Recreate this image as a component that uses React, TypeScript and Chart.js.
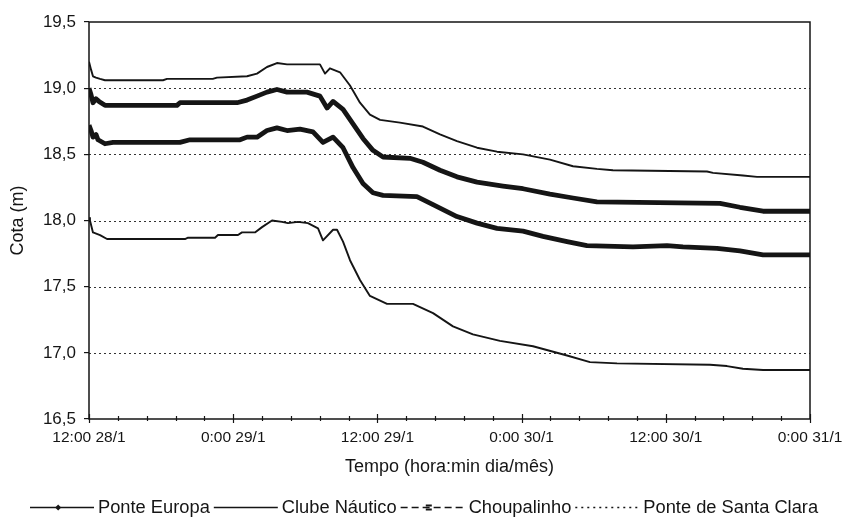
import React, { useEffect, useRef } from "react";
import { Chart, registerables } from "chart.js";

Chart.register(...registerables);

// ---- axis definitions ----
const timeTickHours = [0, 12, 24, 36, 48, 60];
const timeTickLabels = ["12:00 28/1", "0:00 29/1", "12:00 29/1", "0:00 30/1", "12:00 30/1", "0:00 31/1"];
const levelTicks = [16.5, 17.0, 17.5, 18.0, 18.5, 19.0, 19.5];
const seriesNames = ["Ponte Europa", "Clube Náutico", "Choupalinho", "Ponte de Santa Clara"];

// ---- series (hours after 12:00 28/1, level in m) ----
const clubeNauticoHours = [0, 0.17, 0.33, 0.58, 0.92, 1.33, 2.0, 6.16, 6.49, 10.3, 10.65, 13.15, 13.98, 14.81, 15.64, 16.48, 19.22, 19.64, 20.05, 20.89, 21.72, 22.55, 23.38, 24.22, 25.88, 27.79, 29.21, 30.62, 32.29, 33.95, 36.12, 38.36, 40.28, 42.27, 43.6, 51.43, 51.93, 54.42, 55.59, 60];
const clubeNauticoLevel = [19.2, 19.14, 19.09, 19.08, 19.07, 19.06, 19.06, 19.06, 19.07, 19.07, 19.08, 19.09, 19.11, 19.16, 19.19, 19.18, 19.18, 19.11, 19.15, 19.12, 19.02, 18.89, 18.8, 18.76, 18.74, 18.71, 18.65, 18.6, 18.55, 18.52, 18.5, 18.46, 18.41, 18.39, 18.38, 18.37, 18.36, 18.34, 18.33, 18.33];

const ponteEuropaHours = [0, 0.17, 0.33, 0.58, 0.83, 1.33, 2.0, 7.32, 7.57, 12.32, 13.15, 13.98, 14.81, 15.64, 16.48, 18.14, 19.22, 19.81, 20.31, 21.14, 21.97, 22.8, 23.63, 24.47, 26.71, 27.79, 29.21, 30.62, 32.29, 34.45, 36.12, 38.36, 40.28, 42.27, 52.51, 54.17, 56.09, 60];
const ponteEuropaLevel = [19.0, 18.95, 18.89, 18.92, 18.9, 18.87, 18.87, 18.87, 18.89, 18.89, 18.91, 18.94, 18.97, 18.99, 18.97, 18.97, 18.94, 18.85, 18.9, 18.84, 18.73, 18.62, 18.53, 18.48, 18.47, 18.44, 18.38, 18.33, 18.29, 18.26, 18.24, 18.2, 18.17, 18.14, 18.13, 18.1, 18.07, 18.07];

const choupalinhoHours = [0, 0.17, 0.33, 0.58, 0.75, 1.33, 2.0, 7.57, 8.4, 12.57, 13.15, 13.98, 14.81, 15.64, 16.48, 17.56, 18.64, 19.47, 20.31, 21.14, 21.97, 22.8, 23.63, 24.47, 27.29, 28.63, 30.62, 32.29, 33.95, 36.12, 37.78, 39.78, 41.44, 45.27, 48.1, 49.43, 52.26, 54.17, 56.09, 60];
const choupalinhoLevel = [18.72, 18.68, 18.63, 18.65, 18.61, 18.58, 18.59, 18.59, 18.61, 18.61, 18.63, 18.63, 18.68, 18.7, 18.68, 18.69, 18.67, 18.59, 18.63, 18.55, 18.4, 18.28, 18.21, 18.19, 18.18, 18.12, 18.03, 17.98, 17.94, 17.92, 17.88, 17.84, 17.81, 17.8, 17.81, 17.8, 17.79, 17.77, 17.74, 17.74];

const santaClaraHours = [0, 0.08, 0.33, 0.92, 1.5, 2.41, 7.99, 8.24, 10.49, 10.73, 12.4, 12.73, 13.81, 14.4, 15.23, 16.06, 16.56, 17.39, 18.22, 19.06, 19.47, 20.31, 20.64, 21.14, 21.72, 22.55, 23.38, 24.8, 26.96, 28.63, 30.29, 31.95, 34.2, 36.95, 39.78, 41.69, 43.94, 51.68, 53.09, 54.42, 56.09, 60];
const santaClaraLevel = [18.02, 18.0, 17.91, 17.89, 17.86, 17.86, 17.86, 17.87, 17.87, 17.89, 17.89, 17.91, 17.91, 17.95, 18.0, 17.99, 17.98, 17.99, 17.98, 17.94, 17.85, 17.93, 17.93, 17.84, 17.7, 17.55, 17.43, 17.37, 17.37, 17.3, 17.2, 17.14, 17.09, 17.05, 16.98, 16.93, 16.92, 16.91, 16.9, 16.88, 16.87, 16.87];

const toPoints = (hs: number[], vs: number[]) => hs.map((h, i) => ({ x: h, y: vs[i] }));

const FONT = "'Liberation Sans', Arial, Helvetica, sans-serif";
const INK = "#151515";

const decorPlugin = {
  id: "decor",
  beforeDatasetsDraw(chart: any) {
    const { ctx, chartArea: a, scales } = chart;
    const ys = scales.y;
    ctx.save();
    ctx.strokeStyle = "#333";
    ctx.lineWidth = 1;
    ctx.setLineDash([2, 3]);
    levelTicks.slice(1, -1).forEach((v) => {
      const py = Math.round(ys.getPixelForValue(v)) + 0.5;
      ctx.beginPath();
      ctx.moveTo(a.left, py);
      ctx.lineTo(a.right, py);
      ctx.stroke();
    });
    ctx.restore();
  },
  afterDatasetsDraw(chart: any) {
    const { ctx, chartArea: a, scales } = chart;
    const xs = scales.x;
    ctx.save();
    ctx.strokeStyle = INK;
    ctx.lineWidth = 1.5;
    ctx.strokeRect(a.left, a.top, a.right - a.left, a.bottom - a.top);
    ctx.lineWidth = 1.2;
    const minorPerMajor = 5;
    const step = (timeTickHours[1] - timeTickHours[0]) / minorPerMajor;
    const n = Math.round((timeTickHours[timeTickHours.length - 1] - timeTickHours[0]) / step);
    for (let i = 0; i <= n; i++) {
      const px = Math.round(xs.getPixelForValue(timeTickHours[0] + i * step)) + 0.5;
      const major = i % minorPerMajor === 0;
      ctx.beginPath();
      ctx.moveTo(px, a.bottom - (major ? 5 : 3));
      ctx.lineTo(px, a.bottom + (major ? 4 : 2));
      ctx.stroke();
    }
    ctx.restore();
  },
  afterDraw(chart: any) {
    const { ctx } = chart;
    const cy = 507.5;
    ctx.save();
    ctx.font = `18.3px ${FONT}`;
    ctx.textBaseline = "middle";
    ctx.fillStyle = INK;
    ctx.strokeStyle = INK;
    let x = 30;
    const lineLen = 64;
    seriesNames.forEach((name, i) => {
      ctx.lineWidth = 1.5;
      if (i === 2) ctx.setLineDash([7, 4]);
      else if (i === 3) ctx.setLineDash([2, 4]);
      else ctx.setLineDash([]);
      ctx.beginPath();
      ctx.moveTo(x, cy);
      ctx.lineTo(x + lineLen, cy);
      ctx.stroke();
      ctx.setLineDash([]);
      const mx = x + lineLen * 0.44;
      if (i === 0) {
        ctx.beginPath();
        ctx.moveTo(mx, cy - 3);
        ctx.lineTo(mx + 3, cy);
        ctx.lineTo(mx, cy + 3);
        ctx.lineTo(mx - 3, cy);
        ctx.closePath();
        ctx.fill();
      } else if (i === 2) {
        ctx.fillRect(mx - 3, cy - 3, 6, 2);
        ctx.fillRect(mx - 3, cy + 1, 6, 2);
      }
      const tx = x + lineLen + 4;
      ctx.fillText(name, tx, cy);
      x = tx + ctx.measureText(name).width + 4;
    });
    ctx.restore();
  },
};

export default function App() {
  const ref = useRef<HTMLCanvasElement | null>(null);

  useEffect(() => {
    document.body.style.margin = "0";
    Chart.defaults.font.family = FONT;
    Chart.defaults.color = INK;
    const canvas = ref.current;
    if (!canvas) return;
    const mk = (label: string, hs: number[], vs: number[], w: number) => ({
      label,
      data: toPoints(hs, vs),
      borderColor: INK,
      backgroundColor: INK,
      borderWidth: w,
      pointRadius: 0,
      tension: 0,
      fill: false,
      borderJoinStyle: "round" as const,
    });
    const chart = new Chart(canvas, {
      type: "line",
      data: {
        datasets: [
          mk(seriesNames[0], ponteEuropaHours, ponteEuropaLevel, 4.8),
          mk(seriesNames[1], clubeNauticoHours, clubeNauticoLevel, 1.9),
          mk(seriesNames[2], choupalinhoHours, choupalinhoLevel, 4.8),
          mk(seriesNames[3], santaClaraHours, santaClaraLevel, 1.9),
        ],
      },
      options: {
        animation: false,
        responsive: false,
        maintainAspectRatio: false,
        layout: { padding: { left: 3.5, top: 22, right: 47, bottom: 39 } },
        plugins: { legend: { display: false }, tooltip: { enabled: false } },
        scales: {
          x: {
            type: "linear",
            min: timeTickHours[0],
            max: timeTickHours[timeTickHours.length - 1],
            afterBuildTicks: (s: any) => {
              s.ticks = timeTickHours.map((v) => ({ value: v }));
            },
            afterFit: (s: any) => {
              s.height = 63;
            },
            ticks: {
              autoSkip: false,
              maxRotation: 0,
              padding: 9,
              font: { size: 15.5 },
              color: INK,
              callback: (_v: any, i: number) => timeTickLabels[i],
            },
            grid: { display: true, drawOnChartArea: false, drawTicks: false, color: "transparent" },
            border: { display: false },
            title: { display: true, text: "Tempo (hora:min dia/mês)", font: { size: 18 }, color: INK },
          },
          y: {
            type: "linear",
            min: levelTicks[0],
            max: levelTicks[levelTicks.length - 1],
            afterBuildTicks: (s: any) => {
              s.ticks = levelTicks.map((v) => ({ value: v }));
            },
            afterFit: (s: any) => {
              s.width = 85.5;
            },
            ticks: {
              padding: 8,
              font: { size: 17 },
              color: INK,
              callback: (v: any) => Number(v).toFixed(1).replace(".", ","),
            },
            grid: { display: true, drawOnChartArea: false, drawTicks: true, tickLength: 5, color: INK, lineWidth: 1.2 },
            border: { display: false },
            title: { display: true, text: "Cota (m)", font: { size: 18 }, color: INK },
          },
        },
      },
      plugins: [decorPlugin],
    });
    return () => chart.destroy();
  }, []);

  return (
    <div style={{ width: 857, height: 521, background: "#fff" }}>
      <canvas ref={ref} width={857} height={521} style={{ width: 857, height: 521, display: "block" }} />
    </div>
  );
}
